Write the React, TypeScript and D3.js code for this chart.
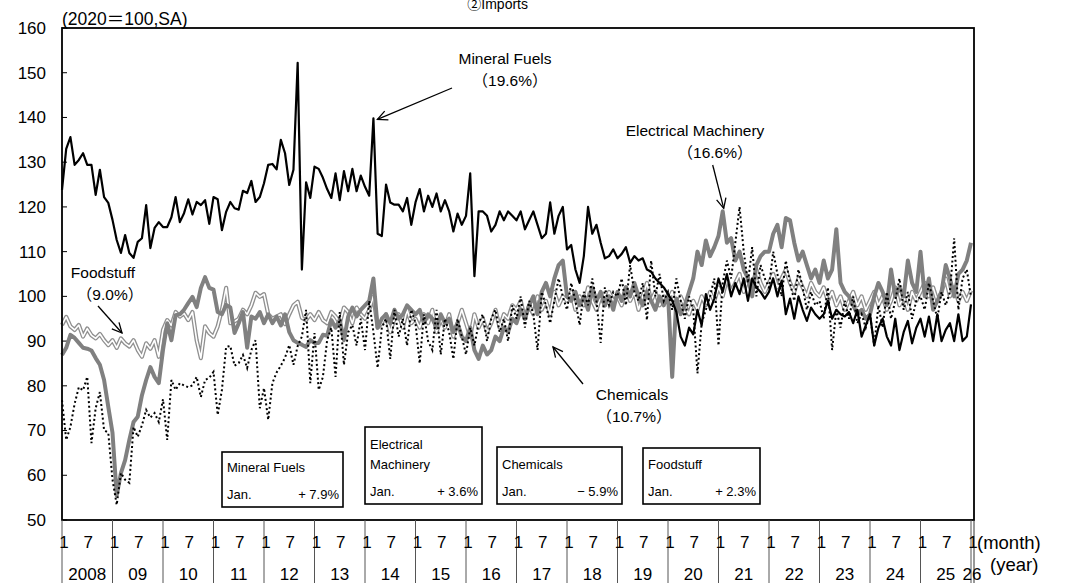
import React from 'react';
import * as d3 from 'd3';

// monthly index, 2020=100, SA. Jan 2008 .. Jan 2026 (217 months)
const mineralFuels = [
  123.8, 133.0, 135.6, 129.4, 130.5, 132.0, 129.4, 129.4, 122.7, 128.3, 122.2, 120.9,
  117.1, 112.6, 109.7, 113.7, 109.7, 108.6, 112.2, 113.0, 120.4, 110.8, 115.3, 116.6,
  115.5, 115.5, 117.7, 122.2, 116.6, 118.6, 121.7, 118.3, 121.1, 120.4, 121.5, 116.2,
  122.2, 121.7, 114.8, 118.9, 121.1, 119.7, 119.4, 123.6, 123.1, 125.8, 121.1, 122.2,
  125.3, 129.4, 129.6, 128.4, 135.0, 132.0, 124.9, 128.3, 152.2, 106.0, 125.5, 122.0,
  129.0, 128.5, 126.5, 124.0, 122.0, 127.5, 121.5, 128.0, 123.5, 128.5, 123.5, 127.0,
  124.5, 122.5, 139.8, 114.0, 113.5, 125.0, 121.0, 120.5, 120.5, 119.0, 122.0, 116.0,
  121.0, 124.0, 119.0, 122.5, 120.0, 123.0, 119.0, 121.5, 119.0, 114.5, 118.5, 116.0,
  118.0, 127.5, 104.5, 119.0, 119.0, 118.0, 114.5, 116.0, 119.0, 117.0, 119.0, 118.0,
  117.0, 119.0, 115.0, 117.0, 119.0, 116.0, 113.0, 114.0, 121.0, 114.0, 118.0, 120.0,
  110.5, 111.5, 106.0, 103.0, 109.0, 120.0, 114.0, 116.0, 112.0, 108.5, 109.0, 110.5,
  108.5, 109.5, 111.0, 107.5, 109.0, 108.0, 108.5, 106.0, 105.5, 104.0, 103.0, 102.0,
  100.5, 99.0, 96.5, 91.0, 89.0, 93.0, 91.5, 97.0, 93.5, 100.5, 97.0, 99.5,
  104.0, 101.0, 105.0, 100.0, 103.0, 100.5, 104.0, 99.0, 104.0, 102.0, 101.0, 99.5,
  101.0, 104.0, 100.0, 103.5, 96.0, 99.5, 95.0, 100.0, 97.0, 94.5, 97.5, 96.0,
  95.0, 96.0, 99.0, 95.0, 97.0, 96.0, 95.5, 96.5, 94.0, 97.0, 91.0, 93.5,
  96.0, 89.0, 93.0, 95.0, 91.0, 89.0, 95.0, 88.0, 92.0, 94.5, 89.5, 93.0,
  95.0, 91.0, 95.5, 90.0, 96.0, 90.0, 92.5, 94.0, 90.0, 96.0, 90.0, 91.0,
  98.2,
];

const electricalMachinery = [
  86.9, 88.5, 91.4, 90.7, 89.6, 88.5, 88.3, 87.9, 86.2, 84.7, 81.3, 75.3,
  69.5, 55.5, 60.5, 63.4, 67.9, 71.9, 73.1, 77.9, 81.3, 84.2, 82.0, 80.6,
  88.0, 94.0, 90.2, 95.8, 96.0, 97.0, 98.5, 99.9, 97.6, 101.9, 104.3, 101.9,
  101.5, 96.5, 96.0, 98.1, 97.5, 91.8, 94.0, 96.5, 88.5, 95.5, 95.0, 96.5,
  94.0, 96.0, 94.0, 95.5, 93.5, 96.0, 92.0, 90.2, 89.6, 89.2, 88.7, 90.2,
  89.6, 89.6, 91.4, 91.2, 94.7, 93.0, 94.7, 90.2, 95.5, 97.5, 95.5, 97.0,
  98.0, 99.0, 104.0, 93.0, 95.0, 96.0, 94.0, 97.0, 95.0, 96.0, 98.0, 97.0,
  96.0, 97.0, 94.0, 96.0, 95.0, 93.0, 96.0, 94.0, 95.0, 92.0, 94.0, 91.0,
  90.0, 93.0, 88.0, 86.0, 89.0, 87.0, 88.0, 91.0, 90.0, 93.0, 92.0, 95.0,
  94.0, 97.0, 95.0, 98.0, 100.0, 96.0, 101.0, 103.0, 100.0, 104.0, 107.0, 108.0,
  100.0, 99.0, 101.0, 98.0, 100.0, 97.0, 102.0, 99.0, 101.0, 98.0, 100.0, 97.0,
  101.0, 99.0, 102.0, 100.0, 103.0, 100.0, 98.0, 101.0, 99.0, 97.0, 100.0, 98.0,
  100.5, 82.0, 99.5, 96.0, 98.0, 101.0, 104.0, 110.0, 107.0, 112.5, 109.0, 111.0,
  113.5, 119.0, 112.0, 113.0, 108.0, 110.0, 106.0, 104.0, 100.0, 107.0, 109.0, 110.0,
  110.0, 114.0, 116.0, 111.0, 117.5, 117.0, 112.0, 108.0, 110.0, 107.0, 104.0, 106.0,
  103.0, 108.0, 104.0, 106.0, 115.0, 103.0, 101.0, 100.0, 98.0, 96.0, 97.0, 95.0,
  96.0, 100.0, 103.0, 101.0, 98.0, 106.0, 100.0, 102.0, 100.0, 108.0, 103.0, 101.0,
  110.0, 100.0, 104.0, 97.0, 99.0, 101.0, 107.0, 104.0, 100.0, 105.0, 106.0, 108.0,
  112.0,
];

const chemicals = [
  76.8, 67.9, 70.8, 76.0, 79.7, 79.0, 82.0, 67.2, 75.0, 78.6, 70.1, 69.5,
  59.0, 53.4, 60.5, 59.0, 58.3, 70.8, 68.6, 71.2, 74.6, 72.9, 73.9, 71.9,
  77.0, 67.9, 81.3, 79.1, 80.6, 80.1, 79.7, 80.1, 82.0, 77.5, 81.3, 81.8,
  83.1, 73.5, 79.1, 88.7, 88.9, 84.5, 85.1, 86.9, 84.0, 88.0, 90.2, 75.0,
  79.5, 72.4, 80.6, 83.0, 84.5, 86.3, 89.1, 84.7, 88.9, 91.0, 97.0, 80.6,
  91.8, 79.1, 82.0, 90.2, 93.0, 82.0, 96.5, 84.7, 92.0, 93.6, 89.0, 95.0,
  88.0, 99.0, 92.0, 84.0, 93.0, 95.0, 86.0, 97.0, 91.0, 95.0, 89.0, 97.0,
  94.0, 85.0, 96.0, 90.0, 88.0, 97.0, 87.0, 95.0, 92.0, 86.0, 95.0, 91.0,
  87.0, 93.0, 89.0, 94.0, 96.0, 90.0, 95.0, 97.0, 92.0, 95.0, 90.0, 98.0,
  95.0, 100.0, 93.0, 99.0, 96.0, 88.0, 101.0, 98.0, 94.0, 99.0, 104.0, 100.0,
  97.0, 103.0, 99.0, 93.6, 101.0, 98.0, 104.0, 99.0, 89.6, 102.0, 98.0, 101.0,
  100.0, 104.0, 98.0, 107.0, 101.0, 99.0, 103.0, 94.7, 108.0, 100.0, 105.0, 99.0,
  101.0, 97.0, 104.0, 99.0, 95.0, 100.0, 97.0, 82.8, 94.0, 97.0, 100.0, 104.0,
  89.0, 103.0, 108.0, 104.0, 112.0, 120.0, 110.0, 103.0, 111.0, 100.0, 107.0, 104.0,
  102.0, 110.0, 105.0, 100.0, 108.0, 103.0, 99.0, 106.0, 102.0, 97.0, 101.0, 98.0,
  99.0, 95.0, 102.0, 88.0, 97.0, 93.0, 99.0, 95.0, 100.0, 94.0, 96.0, 93.0,
  96.0, 89.0, 98.0, 93.0, 101.0, 95.0, 99.0, 104.0, 97.0, 101.0, 95.0, 99.0,
  100.0, 97.0, 103.0, 99.0, 95.0, 101.0, 98.0, 101.0, 113.0, 97.0, 104.0, 106.0,
  99.8,
];

const foodstuff = [
  93.6, 95.4, 93.3, 92.5, 93.6, 91.0, 92.8, 91.3, 90.6, 91.6, 90.2, 89.1,
  90.2, 88.5, 90.6, 89.5, 88.8, 90.2, 88.0, 86.5, 89.5, 88.3, 90.2, 86.5,
  92.5, 94.7, 93.5, 96.5, 95.5, 96.2, 94.7, 96.5, 90.2, 86.2, 93.3, 91.8,
  91.0, 93.3, 97.0, 101.9, 94.0, 94.4, 95.0, 97.0, 96.0, 98.0, 100.8, 99.9,
  100.5, 96.0, 95.0, 95.5, 96.0, 93.8, 96.0, 98.0, 98.8, 95.2, 94.7, 96.0,
  94.7, 96.5, 94.7, 94.0, 96.5, 95.5, 94.0, 97.5, 96.5, 94.0, 97.5, 96.0,
  95.0, 97.0, 100.0, 93.0, 94.0, 96.0, 92.0, 95.0, 96.0, 93.0, 97.0, 94.0,
  95.0, 93.0, 96.0, 94.0, 97.0, 92.0, 95.0, 93.0, 96.0, 91.0, 94.0, 97.0,
  94.0, 91.0, 96.0, 93.0, 95.0, 92.0, 94.0, 97.0, 93.0, 96.0, 95.0, 98.0,
  97.0, 99.0, 95.0, 98.0, 96.0, 100.0, 97.0, 99.0, 96.0, 101.0, 98.0, 100.0,
  99.0, 101.0, 97.0, 100.0, 98.0, 102.0, 99.0, 97.0, 100.0, 98.0, 101.0, 99.0,
  100.0, 98.0, 102.0, 99.0, 101.0, 97.0, 100.0, 103.0, 99.0, 101.0, 98.0, 100.0,
  99.0, 101.0, 97.0, 100.0, 98.0, 96.0, 99.0, 97.0, 100.0, 98.0, 101.0, 99.0,
  102.0, 100.0, 104.0, 101.0, 103.0, 105.0, 101.0, 104.0, 102.0, 106.0, 103.0, 101.0,
  103.0, 105.0, 102.0, 104.0, 106.0, 103.0, 101.0, 104.0, 102.0, 100.0, 103.0, 101.0,
  100.0, 102.0, 99.0, 101.0, 98.0, 100.0, 97.0, 99.0, 101.0, 98.0, 100.0, 97.0,
  99.0, 101.0, 98.0, 100.0, 97.0, 99.0, 102.0, 98.0, 100.0, 97.0, 101.0, 99.0,
  101.0, 103.0, 100.0, 102.0, 99.0, 101.0, 104.0, 100.0, 102.0, 99.0, 101.0, 99.0,
  101.3,
];

const yTicks = [50, 60, 70, 80, 90, 100, 110, 120, 130, 140, 150, 160];
const yearLabels = ['2008', '09', '10', '11', '12', '13', '14', '15', '16', '17', '18', '19', '20', '21', '22', '23', '24', '25', '26'];

const legendItems = [
  { name: ['Mineral Fuels'], change: '+ 7.9%' },
  { name: ['Electrical', 'Machinery'], change: '+ 3.6%' },
  { name: ['Chemicals'], change: '− 5.9%' },
  { name: ['Foodstuff'], change: '+ 2.3%' },
];

const FONT = '"Liberation Sans", Arial, "Noto Sans CJK JP", sans-serif';

function Arrow({ x1, y1, x2, y2 }: { x1: number; y1: number; x2: number; y2: number }) {
  const a = Math.atan2(y2 - y1, x2 - x1);
  const len = 11, spread = 0.45;
  const h1 = [x2 - len * Math.cos(a - spread), y2 - len * Math.sin(a - spread)];
  const h2 = [x2 - len * Math.cos(a + spread), y2 - len * Math.sin(a + spread)];
  return (
    <g stroke="#000" strokeWidth={1.3} fill="none">
      <line x1={x1} y1={y1} x2={x2} y2={y2} />
      <polyline points={`${h1[0]},${h1[1]} ${x2},${y2} ${h2[0]},${h2[1]}`} />
    </g>
  );
}

export default function App() {
  const W = 1065, H = 583;
  const L = 62, R = 974, T = 28, B = 520;
  const x = d3.scaleLinear().domain([0, 216]).range([L, 971]);
  const y = d3.scaleLinear().domain([50, 160]).range([B, T]);
  const line = d3.line<number>().x((_, i) => x(i)).y(d => y(d));

  const legendBoxes = [
    { x0: 222, x1: 343, y0: 452, y1: 507 },
    { x0: 365, x1: 482, y0: 427, y1: 504 },
    { x0: 497, x1: 622, y0: 447, y1: 504 },
    { x0: 643, x1: 760, y0: 448, y1: 504 },
  ];

  // arrow tips sit on the peaks they point at
  const emTip = { x: x(157) + 1, y: y(119) - 3 };
  const mfTip = { x: x(74) + 4, y: y(139.8) + 1 };

  return (
    <div style={{ position: 'absolute', left: 0, top: 0 }}>
      <svg width={W} height={H} style={{ display: 'block', background: '#fff' }} fontFamily={FONT}>
        <text x={528} y={9} fontSize={14} textAnchor="end">②Imports</text>
        <text x={62} y={25} fontSize={17.5}>(2020＝100,SA)</text>

        {/* y axis labels + inward ticks */}
        {yTicks.map(t => (
          <g key={t}>
            <text x={46} y={y(t)} dy="0.35em" fontSize={17} textAnchor="end">{t}</text>
            <line x1={L} x2={L + 5} y1={y(t)} y2={y(t)} stroke="#000" />
          </g>
        ))}

        {/* series */}
        <path d={line(foodstuff) || ''} fill="none" stroke="#8f8f8f" strokeWidth={4.2} strokeLinejoin="round" />
        <path d={line(foodstuff) || ''} fill="none" stroke="#fff" strokeWidth={1.6} strokeLinejoin="round" />
        <path d={line(electricalMachinery) || ''} fill="none" stroke="#808080" strokeWidth={4} strokeLinejoin="round" />
        <path d={line(chemicals) || ''} fill="none" stroke="#000" strokeWidth={2} strokeDasharray="2,2.6" />
        <path d={line(mineralFuels) || ''} fill="none" stroke="#000" strokeWidth={2.2} strokeLinejoin="round" />

        {/* frame */}
        <rect x={L} y={T} width={R - L} height={B - T} fill="none" stroke="#000" strokeWidth={1.8} />

        {/* month / year table */}
        <line x1={R} x2={R} y1={B} y2={H} stroke="#333" strokeWidth={1} />
        {yearLabels.map((lab, k) => (
          <g key={lab + k}>
            <line x1={x(k * 12)} x2={x(k * 12)} y1={B} y2={H} stroke="#555" strokeWidth={1} />
            <text x={x(k * 12) + 2} y={548} fontSize={17} textAnchor="middle">1</text>
            {k < 18 && <text x={x(k * 12 + 6) + 1} y={548} fontSize={17} textAnchor="middle">7</text>}
            <text x={k < 18 ? x(k * 12 + 6) : x(k * 12) + 1} y={580} fontSize={17} textAnchor="middle">{lab}</text>
          </g>
        ))}
        <text x={977} y={549} fontSize={18.5}>(month)</text>
        <text x={990} y={571} fontSize={18.5}>(year)</text>

        {/* annotations */}
        <text x={505} y={64} fontSize={15.5} textAnchor="middle">Mineral Fuels</text>
        <text x={510} y={86} fontSize={15.5} textAnchor="middle">（19.6%）</text>
        <Arrow x1={452} y1={88} x2={mfTip.x} y2={mfTip.y} />

        <text x={695} y={136} fontSize={15.5} textAnchor="middle">Electrical Machinery</text>
        <text x={715} y={158} fontSize={15.5} textAnchor="middle">（16.6%）</text>
        <Arrow x1={emTip.x - 11} y1={165} x2={emTip.x} y2={emTip.y} />

        <text x={103} y={278} fontSize={15.5} textAnchor="middle">Foodstuff</text>
        <text x={110} y={300} fontSize={15.5} textAnchor="middle">（9.0%）</text>
        <Arrow x1={98} y1={306} x2={122} y2={333} />

        <text x={632} y={400} fontSize={15.5} textAnchor="middle">Chemicals</text>
        <text x={634} y={422} fontSize={15.5} textAnchor="middle">（10.7%）</text>
        <Arrow x1={583} y1={384} x2={553} y2={347} />

        {/* legend boxes */}
        {legendItems.map((it, i) => {
          const b = legendBoxes[i];
          const firstY = b.y1 - 10 - 25 - (it.name.length - 1) * 20;
          return (
            <g key={i} fontSize={13}>
              <rect x={b.x0} y={b.y0} width={b.x1 - b.x0} height={b.y1 - b.y0} fill="#fff" stroke="#000" strokeWidth={1.6} />
              {it.name.map((n, j) => (
                <text key={j} x={b.x0 + 5} y={firstY + j * 20}>{n}</text>
              ))}
              <text x={b.x0 + 5} y={b.y1 - 8}>Jan.</text>
              <text x={b.x1 - 4} y={b.y1 - 8} textAnchor="end">{it.change}</text>
            </g>
          );
        })}
      </svg>
    </div>
  );
}
